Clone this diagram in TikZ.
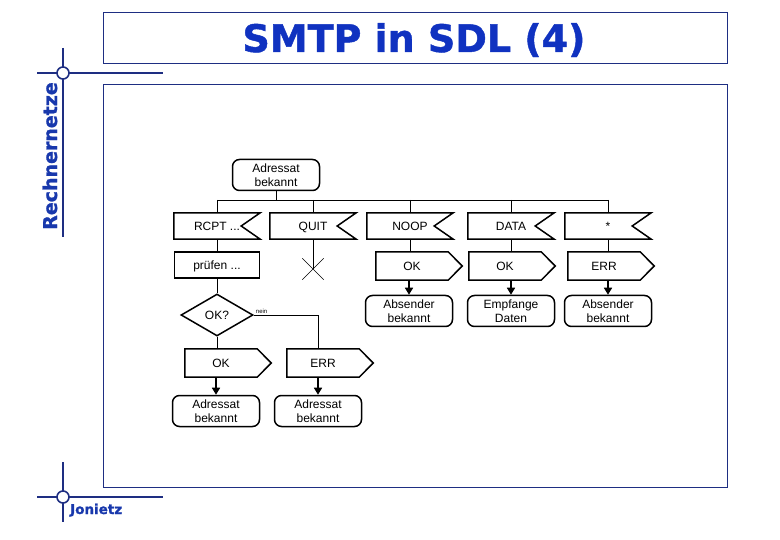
\documentclass[tikz,border=0pt]{standalone}
\usepackage{fontspec}
\setmainfont{Liberation Sans}
\newfontfamily\headfont{DejaVu Sans}[BoldFeatures={FakeBold=1.2}]
\usepackage{tikz}
\usetikzlibrary{shapes.geometric, arrows.meta, positioning, calc}
\definecolor{framecol}{RGB}{30,46,130}
\definecolor{headcol}{RGB}{16,50,192}
\definecolor{sidecol}{RGB}{24,56,172}

\begin{document}
\begin{tikzpicture}[x=1pt, y=-1pt,%
  font=\fontsize{12}{14}\selectfont,%
  box/.style={line width=1.5pt, line join=miter},%
  state/.style={rectangle, draw, box, rounded corners=7pt, minimum width=87pt, minimum height=31pt, inner sep=0pt, align=center},%
  task/.style={rectangle, draw, box, minimum width=85pt, minimum height=26pt, inner sep=0pt, text height=10pt, text depth=1.4pt},%
  input/.style={rectangle, minimum width=86pt, minimum height=26pt, inner sep=0pt, text height=10pt, text depth=1.4pt, append after command={\pgfextra{\draw[box] (\tikzlastnode.north west) -- (\tikzlastnode.north east) -- ([xshift=-19pt]\tikzlastnode.east) -- (\tikzlastnode.south east) -- (\tikzlastnode.south west) -- cycle;}}},%
  output/.style={rectangle, minimum width=72pt, minimum height=28pt, inner sep=0pt, text height=10pt, text depth=1.4pt, append after command={\pgfextra{\draw[box] (\tikzlastnode.north west) -- (\tikzlastnode.north east) -- ([xshift=14pt]\tikzlastnode.east) -- (\tikzlastnode.south east) -- (\tikzlastnode.south west) -- cycle;}}},%
  decision/.style={diamond, draw, box, aspect=1.7, minimum width=72pt, minimum height=42pt, inner sep=0pt},%
  stopsym/.style={rectangle, minimum size=21pt, inner sep=0pt, append after command={\pgfextra{\draw[line width=0.7pt] (\tikzlastnode.north west) -- (\tikzlastnode.south east) (\tikzlastnode.north east) -- (\tikzlastnode.south west);}}},%
  link/.style={line width=0.8pt},%
  myarrow/.style={-{Triangle[width=8pt, length=7pt]}, line width=1.5pt}%
]
  \useasboundingbox (0,0) rectangle (780,540);
  \draw[framecol, line width=0.8pt] (103,12) rectangle (727,63);
  \draw[framecol, line width=0.8pt] (103,84) rectangle (727,487);
  \draw[framecol, line width=1.6pt] (63,48) -- (63,237) (37,73) -- (163,73);
  \draw[framecol, line width=1.6pt, fill=white] (63,73) circle (6);
  \draw[framecol, line width=1.6pt] (63,462) -- (63,522) (37,497) -- (163,497);
  \draw[framecol, line width=1.6pt, fill=white] (63,497) circle (6);
  \node[anchor=base, inner sep=0pt, text=headcol, font=\headfont\bfseries\fontsize{38}{40}\selectfont] (title) at (414,52) {SMTP in SDL (4)};
  \node[anchor=base, rotate=90, inner sep=0pt, text=sidecol, font=\headfont\bfseries\fontsize{19}{20}\selectfont] (side) at (57,156) {Rechnernetze};
  \node[anchor=base west, inner sep=0pt, text=sidecol, font=\headfont\bfseries\fontsize{13.5}{14}\selectfont] (author) at (70,514) {Jonietz};

  \node[state] (start) at (276,175) {Adressat\\bekannt};
  \coordinate (bus) at (0,200);
  \node[input] (rcpt) at (217,226) {RCPT ...};
  \node[input] (quit) at (313,226) {QUIT};
  \node[input] (noop) at (410,226) {NOOP};
  \node[input] (data) at (511,226) {DATA};
  \node[input] (star) at (608,226) {*};
  \node[task] (pruef) at (217,265) {prüfen ...};
  \node[stopsym] (stop) at (313,269) {};
  \node[output] (ok3) at (412,266) {OK};
  \node[output] (ok4) at (505,266) {OK};
  \node[output] (err5) at (604,266) {ERR};
  \node[state] (absA) at (409,311) {Absender\\bekannt};
  \node[state] (empf) at (511,311) {Empfange\\Daten};
  \node[state] (absB) at (608,311) {Absender\\bekannt};
  \node[decision] (dec) at (217,315) {OK?};
  \node[output] (ok1) at (221,363) {OK};
  \node[output] (err1) at (323,363) {ERR};
  \node[state] (adrA) at (216,411) {Adressat\\bekannt};
  \node[state] (adrB) at (318,411) {Adressat\\bekannt};
  \node[anchor=south west, inner sep=1pt, font=\fontsize{6}{7}\selectfont] (nein) at ([xshift=1pt]dec.east) {nein};

  \draw[link] (start.south) -- (start.south |- bus);
  \draw[link] (rcpt.north |- bus) -- (star.north |- bus);
  \draw[link] (rcpt.north |- bus) -- (rcpt.north);
  \draw[link] (quit.north |- bus) -- (quit.north);
  \draw[link] (noop.north |- bus) -- (noop.north);
  \draw[link] (data.north |- bus) -- (data.north);
  \draw[link] (star.north |- bus) -- (star.north);
  \draw[link] (rcpt.south) -- (pruef.north);
  \draw[link] (quit.south) -- (stop.center);
  \draw[link] (noop.south) -- (noop.south |- ok3.north);
  \draw[link] (data.south) -- (data.south |- ok4.north);
  \draw[link] (star.south) -- (star.south |- err5.north);
  \draw[myarrow] (ok3.south -| absA.north) -- (absA.north);
  \draw[myarrow] (ok4.south -| empf.north) -- (empf.north);
  \draw[myarrow] (err5.south -| absB.north) -- (absB.north);
  \draw[link] (pruef.south) -- (dec.north);
  \draw[link] (dec.south) -- (dec.south |- ok1.north);
  \draw[link] (dec.east) -| (adrB.north |- err1.north);
  \draw[myarrow] (ok1.south -| adrA.north) -- (adrA.north);
  \draw[myarrow] (err1.south -| adrB.north) -- (adrB.north);
\end{tikzpicture}
\end{document}
